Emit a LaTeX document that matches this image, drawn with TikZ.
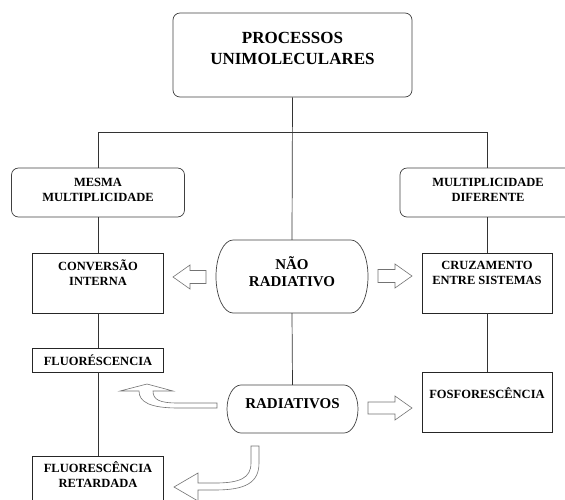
\documentclass[tikz,border=0pt]{standalone}
\usepackage{fontspec}
\setmainfont{Liberation Serif}
\begin{document}
\begin{tikzpicture}[x=1pt,y=-1pt,
  line/.style={draw=black!80, line width=0.7pt},
  rbox/.style={draw=black!75, line width=0.7pt, rounded corners=7pt, inner sep=0pt},
  sbox/.style={draw=black!85, line width=0.7pt, inner sep=0pt},
  ghost/.style={inner sep=0pt},
  txt/.style={font=\bfseries\fontsize{12.5}{15}\selectfont, align=center, inner sep=0pt},
  bigtxt/.style={font=\bfseries\fontsize{17}{21}\selectfont, align=center, inner sep=0pt},
  midtxt/.style={font=\bfseries\fontsize{15}{17.5}\selectfont, align=center, inner sep=0pt},
  hollow/.style={draw=black!55, line width=0.6pt, fill=white, line join=miter}]
\useasboundingbox (0,0) rectangle (565,499);
\clip (0,0) rectangle (565,499);

% boxes
\node[rbox, minimum width=239pt, minimum height=84pt] (top) at (292.5,55) {};
\node[bigtxt] (toptxt) at (292.5,48) {PROCESSOS\\UNIMOLECULARES};

\node[rbox, minimum width=173pt, minimum height=49pt] (mesma) at (98,192.5) {};
\node[txt] (mesmatxt) at (98,190) {MESMA\\MULTIPLICIDADE};

\node[rbox, minimum width=174pt, minimum height=49pt] (dif) at (487,192.5) {};
\node[txt] (diftxt) at (488,190) {MULTIPLICIDADE\\DIFERENTE};

\node[sbox, minimum width=131pt, minimum height=60pt] (conv) at (98,283) {};
\node[txt] (convtxt) at (98,272.5) {CONVERSÃO\\INTERNA};

\node[sbox, minimum width=130pt, minimum height=60pt] (cruz) at (487,283) {};
\node[txt] (cruztxt) at (487,272.5) {CRUZAMENTO\\ENTRE SISTEMAS};

\node[sbox, minimum width=131pt, minimum height=24pt] (fluo) at (98,360) {};
\node[txt] (fluotxt) at (98,360) {FLUORÉSCENCIA};

\node[sbox, minimum width=130pt, minimum height=60pt] (fosfo) at (487,402) {};
\node[txt] (fosfotxt) at (487,393) {FOSFORESCÊNCIA};

\node[sbox, minimum width=131pt, minimum height=54pt] (fret) at (98,483) {};
\node[txt] (frettxt) at (98,474.5) {FLUORESCÊNCIA\\RETARDADA};

% stadium nodes
\node[ghost, minimum width=152pt, minimum height=73pt] (nr) at (292,276.5) {};
\draw[draw=black!75, line width=0.7pt] (233,240) -- (351,240)
  .. controls (360.4,240) and (368,256.35) .. (368,276.5)
  .. controls (368,296.65) and (360.4,313) .. (351,313) -- (233,313)
  .. controls (223.6,313) and (216,296.65) .. (216,276.5)
  .. controls (216,256.35) and (223.6,240) .. (233,240) -- cycle;
\node[midtxt] (nrtxt) at (292,271.5) {NÃO\\RADIATIVO};

\node[ghost, minimum width=131pt, minimum height=48pt] (rad) at (292.5,409) {};
\draw[draw=black!75, line width=0.7pt] (241,385) -- (344,385)
  .. controls (351.7,385) and (358,395.75) .. (358,409)
  .. controls (358,422.25) and (351.7,433) .. (344,433) -- (241,433)
  .. controls (233.3,433) and (227,422.25) .. (227,409)
  .. controls (227,395.75) and (233.3,385) .. (241,385) -- cycle;
\node[midtxt] (radtxt) at (292.5,404) {RADIATIVOS};

% connectors
\draw[line] (top.south) -- (nr.north);
\draw[line] (mesma.north) -- ++(0,-35) -| (dif.north);
\draw[line] (mesma.south) -- (conv.north);
\draw[line] (conv.south) -- (fluo.north);
\draw[line] (fluo.south) -- (fret.north);
\draw[line] (dif.south) -- (cruz.north);
\draw[line] (cruz.south) -- (fosfo.north);
\draw[line] (nr.south) -- (rad.north);

% hollow block arrows
\draw[hollow] (206,270.5) -- (190,270.5) -- (190,265) -- (173,277) -- (190,289) -- (190,283.5) -- (206,283.5) -- cycle;
\draw[hollow] (378,269.5) -- (395,269.5) -- (395,264) -- (412,276) -- (395,288) -- (395,282.5) -- (378,282.5) -- cycle;
\draw[hollow] (368,402) -- (395,402) -- (395,396) -- (412,408) -- (395,420) -- (395,414) -- (368,414) -- cycle;

% curved arrows
\draw[hollow] (147,384) -- (173,391) -- (153,391)
  .. controls (153,400) and (160,403) .. (178,403) -- (217,403) -- (217,408) -- (178,408)
  .. controls (150,408) and (139,402) .. (139,391) -- (120,391) -- cycle;
\draw[hollow] (251,446) -- (259,446) -- (259,463)
  .. controls (259,483) and (245,490) .. (215,490) -- (198,490) -- (198,501) -- (174,487)
  -- (198,473) -- (198,483) -- (215,483)
  .. controls (240,483) and (251,478) .. (251,463) -- cycle;
\end{tikzpicture}
\end{document}
